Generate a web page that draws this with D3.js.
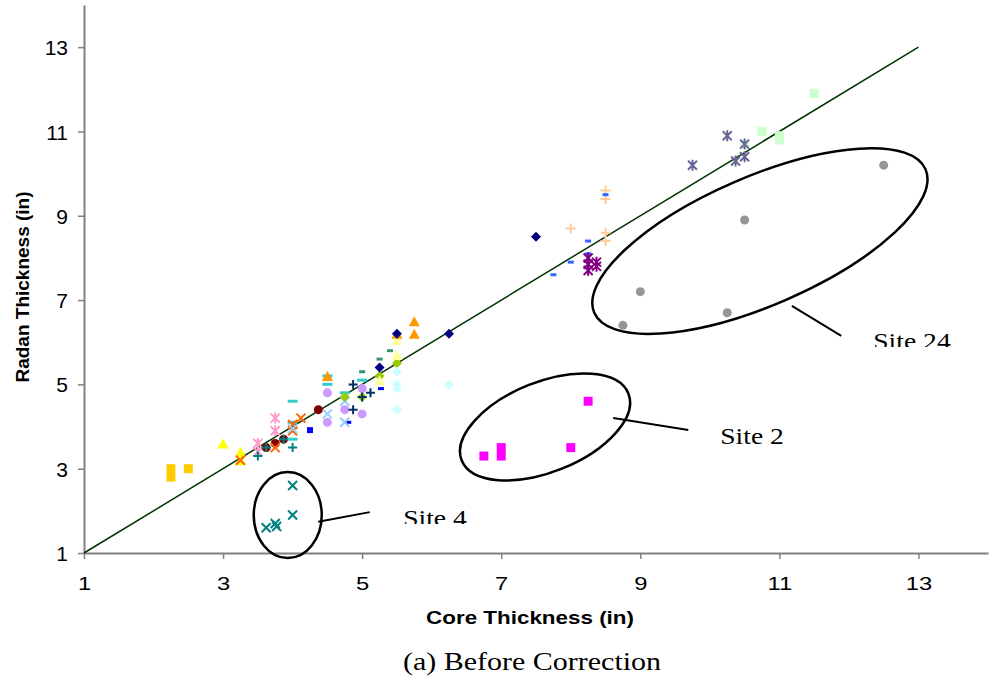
<!DOCTYPE html>
<html>
<head>
<meta charset="utf-8">
<script src="https://cdn.jsdelivr.net/npm/d3@7"></script>
<style>
body{margin:0;background:#fff;}
svg{display:block;}
</style>
</head>
<body>
<div class="scatter"></div>
<script>
// axis ticks
var xTicks=[1,3,5,7,9,11,13];
var yTicks=[1,3,5,7,9,11,13];
// 1:1 line
var refLine=[[1,1],[13,13]];

// series values [core, radan]
var goldSquare=[[2.25,3.0],[2.25,2.8],[2.5,3.0]];
var yellowTri=[[3.0,3.6],[3.25,3.4],[3.25,3.2]];
var pinkStar=[[3.75,4.2],[3.75,3.9],[3.5,3.6],[3.5,3.4]];
var maroonCircle=[[3.62,3.5],[3.75,3.6],[3.87,3.7],[4.37,4.4]];
var tealPlus=[[3.5,3.3],[3.62,3.5],[3.87,3.7],[4.0,3.5]];
var cyanDash=[[4.0,4.6],[4.0,4.1],[4.0,3.7],[4.5,5.2],[4.5,5.0],[4.75,4.8],[5.0,5.1]];
var orangeX=[[3.25,3.2],[3.75,3.5],[4.0,4.05],[4.0,3.9],[4.12,4.2]];
var blueDash=[[4.25,3.95],[4.25,3.88],[4.8,4.1],[5.27,4.9]];
var lavenderCircle=[[4.5,4.8],[4.5,4.1],[4.75,4.4],[5.0,4.9],[5.0,4.3]];
var lightBlueX=[[4.5,4.3],[4.75,4.6],[4.75,4.1],[4.0,3.95]];
var limeDiamond=[[4.75,4.7],[5.0,4.7],[5.25,5.2],[5.5,5.5]];
var navyPlus=[[4.87,5.0],[5.12,4.8],[4.87,4.4],[5.0,4.7]];
var greenDash=[[5.0,5.3],[5.25,5.6],[5.4,5.8]];
var lightYellowTri=[[5.5,6.05],[5.5,5.7],[5.25,5.1]];
var lightCyanDiamond=[[5.5,5.3],[5.5,5.0],[5.5,4.9],[5.5,4.4],[6.25,5.0]];
var orangeTri=[[4.5,5.2],[5.5,6.2],[5.75,6.5],[5.75,6.2]];
var navyDiamond=[[5.25,5.4],[5.5,6.2],[6.25,6.2],[7.5,8.5]];
var peachPlus=[[8.5,9.6],[8.5,9.4],[8.0,8.7],[8.5,8.6],[8.5,8.4]];
var royalDash=[[8.5,9.5],[8.25,8.4],[8.25,8.1],[8.0,7.9],[7.75,7.6]];
var purpleStar=[[8.25,8.0],[8.25,7.7],[8.37,7.9],[8.37,7.8],[8.25,7.85]];
var mintSquare=[[11.5,11.9],[10.75,11.0],[11.0,10.9],[11.0,10.8],[10.5,10.7]];
var slateStar=[[10.25,10.9],[9.75,10.2],[10.5,10.7],[10.5,10.4],[10.37,10.3]];
var site24=[[12.5,10.2],[10.5,8.9],[9.0,7.2],[10.25,6.7],[8.75,6.4]];
var site2=[[8.25,4.6],[6.75,3.3],[7.0,3.5],[7.0,3.3],[8.0,3.5]];
var site4=[[4.0,2.6],[4.0,1.9],[3.62,1.6],[3.75,1.7],[3.77,1.63]];

// annotations (data units)
var siteNames=['Site 24','Site 2','Site 4'];
var ringCentres=[[10.72,8.40],[7.63,3.99],[3.93,1.90]];
var leaderLines=[[[11.18,6.86],[11.89,6.15]],[[8.61,4.20],[9.69,3.92]],[[4.37,1.74],[5.11,1.97]]];
var labelAnchors=[[12.35,5.84],[10.15,3.59],[5.59,1.64]];

var width=991;
var height=685;
var svg=d3.select('div.scatter')
		.append('svg')
		.attr('width',width)
		.attr('height',height);

var xScale=d3.scaleLinear().domain([1,14]).range([84,988]);
var yScale=d3.scaleLinear().domain([1,14]).range([553,5]);

//marker shapes, roughly like Excel's
function markerPath(type,s){
	var h=s/2;
	if(type=='square') return 'M'+(-h)+','+(-h)+'h'+s+'v'+s+'h'+(-s)+'Z';
	if(type=='diamond') return 'M0,'+(-h-0.5)+'L'+(h+0.5)+',0L0,'+(h+0.5)+'L'+(-h-0.5)+',0Z';
	if(type=='triangle') return 'M0,'+(-h)+'L'+(h+0.5)+','+h+'L'+(-h-0.5)+','+h+'Z';
	if(type=='circle') return d3.symbol(d3.symbolCircle,Math.PI*h*h)();
	if(type=='dash') return 'M'+(-h)+',-1.5h'+s+'v3h'+(-s)+'Z';
	if(type=='x') return 'M'+(-h)+','+(-h)+'L'+h+','+h+'M'+h+','+(-h)+'L'+(-h)+','+h;
	if(type=='star') return 'M'+(-h)+','+(-h)+'L'+h+','+h+'M'+h+','+(-h)+'L'+(-h)+','+h+'M0,'+(-h-1)+'V'+(h+1);
	if(type=='plus') return 'M'+(-h)+',0H'+h+'M0,'+(-h)+'V'+h;
	return '';
}
var stroked={x:true,star:true,plus:true};

var series=[
	{data:goldSquare,shape:'square',color:'#FFCC00',size:9},
	{data:yellowTri,shape:'triangle',color:'#FFFF00',size:10},
	{data:pinkStar,shape:'star',color:'#FF99CC',size:9},
	{data:maroonCircle,shape:'circle',color:'#800000',size:9},
	{data:tealPlus,shape:'plus',color:'#008080',size:9},
	{data:cyanDash,shape:'dash',color:'#33CCCC',size:10},
	{data:orangeX,shape:'x',color:'#FF6600',size:9},
	{data:blueDash,shape:'dash',color:'#0000FF',size:6},
	{data:lavenderCircle,shape:'circle',color:'#CC99FF',size:9},
	{data:lightBlueX,shape:'x',color:'#99CCFF',size:9},
	{data:limeDiamond,shape:'diamond',color:'#99CC00',size:9},
	{data:navyPlus,shape:'plus',color:'#003366',size:9},
	{data:greenDash,shape:'dash',color:'#339966',size:6},
	{data:lightYellowTri,shape:'triangle',color:'#FFFF99',size:10},
	{data:lightCyanDiamond,shape:'diamond',color:'#CCFFFF',size:9},
	{data:orangeTri,shape:'triangle',color:'#FF9900',size:10},
	{data:navyDiamond,shape:'diamond',color:'#000080',size:9},
	{data:peachPlus,shape:'plus',color:'#FFCC99',size:10},
	{data:royalDash,shape:'dash',color:'#3366FF',size:6},
	{data:purpleStar,shape:'star',color:'#800080',size:9},
	{data:mintSquare,shape:'square',color:'#CCFFCC',size:9},
	{data:slateStar,shape:'star',color:'#666699',size:9},
	{data:site24,shape:'circle',color:'#969696',size:9},
	{data:site2,shape:'square',color:'#FF00FF',size:9},
	{data:site4,shape:'x',color:'#008080',size:9}
];

//axes
var xAxisG=svg.append('g')
	.attr('transform','translate(0,'+yScale(1)+')')
	.call(d3.axisBottom(xScale).tickValues(xTicks).tickSize(6).tickSizeOuter(0));
var yAxisG=svg.append('g')
	.attr('transform','translate('+xScale(1)+',0)')
	.call(d3.axisLeft(yScale).tickValues(yTicks).tickSize(6).tickSizeOuter(0));

[xAxisG,yAxisG].forEach(function(g){
	g.select('.domain').attr('stroke','#808080').attr('stroke-width',2);
	g.selectAll('.tick line').attr('stroke','#808080').attr('stroke-width',1.5);
	g.selectAll('.tick text')
		.attr('fill','#000')
		.attr('font-family','"Liberation Sans", Arial, sans-serif');
});
xAxisG.selectAll('.tick text')
	.attr('y',37).attr('dy',null)
	.attr('font-size','19px')
	.attr('transform','scale(1.25,1)');
yAxisG.selectAll('.tick text')
	.attr('x',-16).attr('dy','0.36em')
	.attr('font-size','21px');

//1:1 line
svg.append('path')
	.datum(refLine)
	.attr('d',d3.line().x(function(d){return xScale(d[0]);}).y(function(d){return yScale(d[1]);}))
	.attr('fill','none')
	.attr('stroke','#003300')
	.attr('stroke-width',1.5);

//points
series.forEach(function(s){
	svg.append('g').selectAll('path')
		.data(s.data)
		.enter()
		.append('path')
		.attr('transform',function(d){return 'translate('+xScale(d[0])+','+yScale(d[1])+')';})
		.attr('d',markerPath(s.shape,s.size))
		.attr('fill',stroked[s.shape]?'none':s.color)
		.attr('stroke',stroked[s.shape]?s.color:'none')
		.attr('stroke-width',2);
});

//site rings, leader lines and labels
var ringSize=[[180.5,64.3,-23.4],[89.8,45,-21.9],[34,43,0]];
var clipAbove=[2,null,2];
svg.selectAll('.ring')
	.data(ringCentres)
	.enter()
	.append('ellipse')
	.attr('class','ring')
	.attr('transform',function(d,i){return 'translate('+xScale(d[0])+','+yScale(d[1])+') rotate('+ringSize[i][2]+')';})
	.attr('rx',function(d,i){return ringSize[i][0];})
	.attr('ry',function(d,i){return ringSize[i][1];})
	.attr('fill','none')
	.attr('stroke','#000')
	.attr('stroke-width',2.5);

svg.selectAll('.leader')
	.data(leaderLines)
	.enter()
	.append('line')
	.attr('class','leader')
	.attr('x1',function(d){return xScale(d[0][0]);})
	.attr('y1',function(d){return yScale(d[0][1]);})
	.attr('x2',function(d){return xScale(d[1][0]);})
	.attr('y2',function(d){return yScale(d[1][1]);})
	.attr('stroke','#000')
	.attr('stroke-width',2);

var defs=svg.append('defs');
labelAnchors.forEach(function(a,i){
	var lx=xScale(a[0]),ly=yScale(a[1]);
	var t=svg.append('text')
		.attr('transform','translate('+lx+','+ly+') scale(1.15,1)')
		.attr('font-family','"Liberation Serif", "Times New Roman", serif')
		.attr('font-size','24px')
		.attr('fill','#000')
		.text(siteNames[i]);
	if(clipAbove[i]!=null){
		defs.append('clipPath').attr('id','clip'+i)
			.append('rect')
			.attr('x',-5).attr('y',-40)
			.attr('width',120).attr('height',40-clipAbove[i]);
		t.attr('clip-path','url(#clip'+i+')');
	}
});

//titles
svg.append('text')
	.attr('transform','translate(530,624) scale(1.18,1)')
	.attr('text-anchor','middle')
	.attr('font-family','"Liberation Sans", Arial, sans-serif')
	.attr('font-weight','bold')
	.attr('font-size','19px')
	.text('Core Thickness (in)');
svg.append('text')
	.attr('transform','translate(29,287) rotate(-90)')
	.attr('text-anchor','middle')
	.attr('font-family','"Liberation Sans", Arial, sans-serif')
	.attr('font-weight','bold')
	.attr('font-size','19px')
	.text('Radan Thickness (in)');
svg.append('text')
	.attr('transform','translate(532,670) scale(1.2,1)')
	.attr('text-anchor','middle')
	.attr('font-family','"Liberation Serif", "Times New Roman", serif')
	.attr('font-size','25px')
	.text('(a)  Before Correction');
</script>
</body>
</html>
